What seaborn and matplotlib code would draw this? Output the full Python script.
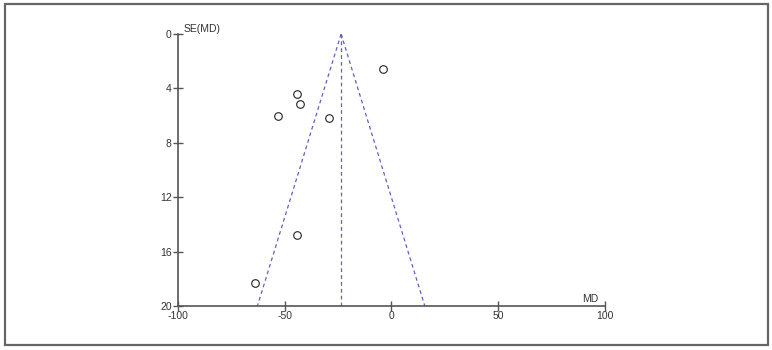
import matplotlib
matplotlib.use("Agg")
import matplotlib.pyplot as plt
import seaborn as sns
import pandas as pd
import numpy as np
from matplotlib.patches import Rectangle

# Data
md_values = [-3.8, -44.3, -42.9, -53.3, -29.3, -44.4, -63.9]
se_values = [2.6, 4.4, 5.15, 6.0, 6.15, 14.75, 18.3]
pooled_md = -23.6
se_max = 20
x_ticks = [-100, -50, 0, 50, 100]
y_ticks = [0, 4, 8, 12, 16, 20]

sns.set_theme(style="white")
plt.rcParams['font.family'] = ['Liberation Sans', 'DejaVu Sans']
plt.rcParams['axes.unicode_minus'] = False

df = pd.DataFrame({"MD": md_values, "SE": se_values})

fig = plt.figure(figsize=(7.72, 3.5), dpi=100)
ax = fig.add_axes([178/772, 1-306/350, (605-178)/772, (306-34)/350])

# funnel lines
line_color = "#6060c8"
se_range = np.array([0, se_max])
ax.plot(pooled_md - 1.96*se_range, se_range, ls=(0, (3, 2.5)), color=line_color, lw=0.9)
ax.plot(pooled_md + 1.96*se_range, se_range, ls=(0, (3, 2.5)), color=line_color, lw=0.9)
ax.plot([pooled_md, pooled_md], [0, se_max], ls=(0, (3, 2.5)), color=line_color, lw=0.9)

sns.scatterplot(data=df, x="MD", y="SE", ax=ax, marker="o", s=30,
                facecolor="white", edgecolor="#222222", linewidth=0.8, zorder=3)

ax.set_xlim(-100, 100)
ax.set_ylim(20, 0)
ax.set_xticks(x_ticks)
ax.set_yticks(y_ticks)
ax.set_xlabel("")
ax.set_ylabel("")
for s in ["top", "right"]:
    ax.spines[s].set_visible(False)
for s in ["left", "bottom"]:
    ax.spines[s].set_color("#555555")
    ax.spines[s].set_linewidth(1.2)
ax.tick_params(axis="both", bottom=True, left=True, direction="inout", length=7,
               width=1.0, color="#555555", labelsize=7.5, labelcolor="#333333", pad=0)
ax.tick_params(axis="y", pad=1)
ax.set_facecolor("white")

ax.text(0.012, 1.0, "SE(MD)", transform=ax.transAxes, fontsize=7.5, color="#333333",
        ha="left", va="bottom")
ax.text(0.985, 0.008, "MD", transform=ax.transAxes, fontsize=7.5, color="#333333",
        ha="right", va="bottom")

fig.patches.append(Rectangle((5/772, 1-345/350), (768-5)/772, (345-4)/350,
                             transform=fig.transFigure, fill=False,
                             edgecolor="#666666", linewidth=1.6))

fig.savefig("out.png", dpi=100, facecolor="white")
